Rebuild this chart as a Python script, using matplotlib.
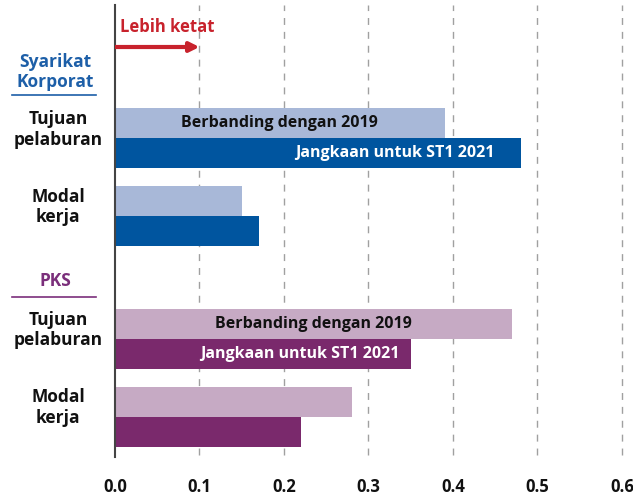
import matplotlib
matplotlib.use("Agg")
import matplotlib.pyplot as plt
from matplotlib.patches import FancyArrowPatch

plt.rcParams['font.family'] = ['Open Sans', 'DejaVu Sans']

groups = ["Syarikat\nKorporat", "PKS"]
categories = ["Tujuan\npelaburan", "Modal\nkerja"]
series_names = ["Berbanding dengan 2019", "Jangkaan untuk ST1 2021"]
corp_2019 = [0.39, 0.15]
corp_2021 = [0.48, 0.17]
pks_2019 = [0.47, 0.28]
pks_2021 = [0.35, 0.22]
xticks = [0.0, 0.1, 0.2, 0.3, 0.4, 0.5, 0.6]
xtick_labels = ["0.0", "0.1", "0.2", "0.3", "0.4", "0.5", "0.6"]
arrow_label = "Lebih ketat"

colors = {
    "corp": ("#a8b8d8", "#00559f"),
    "pks": ("#c6aac4", "#7a296c"),
}
head_colors = ["#1d5fa8", "#7b2f7b"]
label_pad_px = [26, 11]  # right padding of white label inside dark bar

W, H = 633, 500
px = 844.4  # pixels per data unit on x
fig = plt.figure(figsize=(W / 100, H / 100), dpi=100)
ax_left, ax_right = 115 / W, 1.0
ax_top, ax_bot = 1 - 5 / H, 1 - 457 / H
ax = fig.add_axes([ax_left, ax_bot, ax_right - ax_left, ax_top - ax_bot])

unit = 30.0
ax.set_ylim(457 / unit, 5 / unit)
ax.set_xlim(0, 0.6 + (633 - 622) / px)

pair_centers = [[138.5 / unit, 216 / unit], [339 / unit, 416.5 / unit]]
header_y = [72 / unit, 281 / unit]
underline_y = [95 / unit, 297 / unit]

data = [(corp_2019, corp_2021, colors["corp"]), (pks_2019, pks_2021, colors["pks"])]

for gi, (v19, v21, (c_light, c_dark)) in enumerate(data):
    for ci, cat in enumerate(categories):
        yc = pair_centers[gi][ci]
        ax.barh(yc - 0.5, v19[ci], height=1.0, color=c_light, zorder=3)
        ax.barh(yc + 0.5, v21[ci], height=1.0, color=c_dark, zorder=3)
        ax.text(-57 / px, yc - 0.3, cat, ha="center", va="center",
                fontsize=12.5, fontweight="bold", color="#111111", linespacing=1.15,
                clip_on=False)
        if ci == 0:
            ax.text(v19[ci] / 2, yc - 0.5, series_names[0], ha="center", va="center",
                    fontsize=11.5, fontweight="bold", color="#111111", zorder=4)
            ax.text(v21[ci] - label_pad_px[gi] / px, yc + 0.5, series_names[1],
                    ha="right", va="center",
                    fontsize=11.5, fontweight="bold", color="white", zorder=4)
    ax.text(-60 / px, header_y[gi], groups[gi], ha="center", va="center",
            fontsize=12.5, fontweight="bold", color=head_colors[gi], linespacing=1.1,
            clip_on=False)
    ax.plot([-103 / px, -19 / px], [underline_y[gi], underline_y[gi]],
            color=head_colors[gi], lw=1.2, clip_on=False)

for xv in xticks[1:]:
    ax.plot([xv, xv], [455 / unit, 5 / unit], color="#a0a0a0", lw=1,
            ls=(0, (5, 5)), zorder=1)

for s in ["top", "right", "bottom"]:
    ax.spines[s].set_visible(False)
ax.spines["left"].set_color("#444444")
ax.spines["left"].set_linewidth(1.5)
ax.spines["left"].set_zorder(5)

ax.set_xticks(xticks)
ax.set_xticklabels(xtick_labels, fontsize=12, fontweight="bold", color="#111111")
ax.tick_params(axis="x", length=0, pad=15)
ax.set_yticks([])

ax.text(0.006, 27 / unit, arrow_label, ha="left", va="center", fontsize=12,
        fontweight="bold", color="#c8222c")
arr = FancyArrowPatch((0.0, 47 / unit), (0.1, 47 / unit), arrowstyle="-|>",
                      mutation_scale=14, color="#c8222c", lw=3, shrinkA=0, shrinkB=0,
                      zorder=6)
ax.add_patch(arr)

fig.savefig("out.png", dpi=100)
